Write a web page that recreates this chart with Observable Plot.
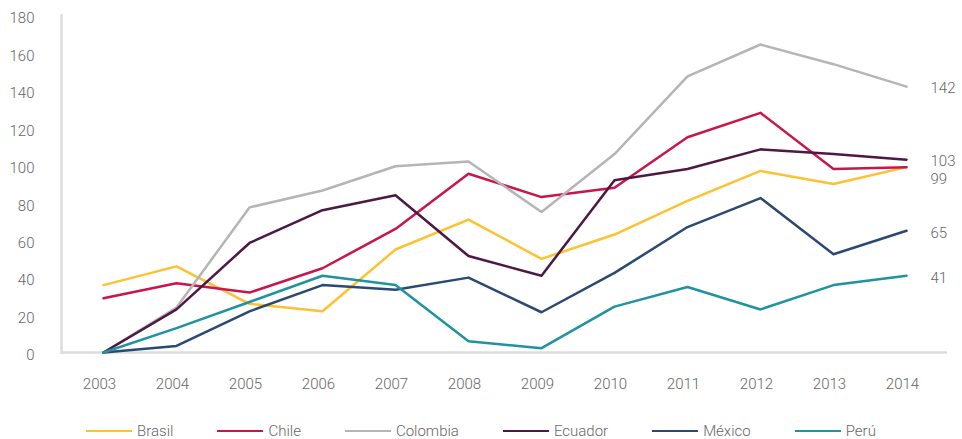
<!DOCTYPE html>
<html>
<head>
<meta charset="utf-8">
<script src="https://cdn.jsdelivr.net/npm/d3@7"></script>
<script src="https://cdn.jsdelivr.net/npm/@observablehq/plot@0.6"></script>
<style>
  body { margin: 0; background: #fff; font-family: Roboto, "Liberation Sans", sans-serif; }
  #chart svg { display: block; }
  .legend { display: flex; justify-content: center; gap: 44px; margin-top: 18px; font-size: 15px; font-weight: 300; color: #666; line-height: 16px; height: 16px; }
  .item { display: flex; align-items: center; gap: 5px; }
  .sw { width: 46px; height: 2.5px; }
</style>
</head>
<body>
<div id="chart"></div>
<script>
const years = [2003, 2004, 2005, 2006, 2007, 2008, 2009, 2010, 2011, 2012, 2013, 2014];
const countries = ["Brasil", "Chile", "Colombia", "Ecuador", "México", "Perú"];
const colors = ["#FDC230", "#C8164C", "#B5B5B5", "#4D1944", "#2B4A73", "#1F93A0"];
const brasil   = [36, 46, 26, 22, 55, 71, 50, 63, 81, 97, 90, 99];
const chile    = [29, 37, 32, 45, 66, 95.5, 83, 88, 115, 128, 98, 99];
const colombia = [0, 24, 77.5, 86.5, 99.5, 102, 75, 106, 147.5, 164.5, 154, 142];
const ecuador  = [0, 23, 58.5, 76, 84, 51.5, 41, 92, 98, 108.5, 106, 103];
const mexico   = [0, 3.5, 22, 36, 33.5, 40, 21.5, 42.5, 67, 82.5, 52.5, 65];
const peru     = [0, 13, 27, 41, 36, 6, 2.3, 24.5, 35, 23, 36, 41];
const yTicks = [0, 20, 40, 60, 80, 100, 120, 140, 160, 180];
const endLabels = ["142", "103", "65", "41"];
const endValues = [142, 103, 65, 41];
const sharedLabel = ["99"];
const sharedValue = [99];

const series = [brasil, chile, colombia, ecuador, mexico, peru];
const data = [];
series.forEach((vals, i) => vals.forEach((v, j) => data.push({country: countries[i], year: years[j], value: v})));
const lastYear = years[years.length - 1];
const labels = endLabels.map((t, i) => ({text: t, value: endValues[i], year: lastYear}));
const labels2 = sharedLabel.map((t, i) => ({text: t, value: sharedValue[i], year: lastYear}));

const font = "Roboto, 'Liberation Sans', sans-serif";
const chart = Plot.plot({
  width: 962,
  height: 405,
  marginLeft: 61,
  marginRight: 15,
  marginTop: 15,
  marginBottom: 53,
  style: {fontFamily: font, fontSize: "15px", fontWeight: 300, color: "#666", background: "#fff"},
  x: {type: "point", domain: years, padding: 0.5, label: null},
  y: {domain: [0, 180], label: null},
  color: {domain: countries, range: colors},
  marks: [
    Plot.frame({anchor: "left", stroke: "#dcdcdc", strokeWidth: 2.5}),
    Plot.ruleY([0], {stroke: "#dcdcdc", strokeWidth: 2.5}),
    Plot.axisX({tickSize: 0, tickPadding: 26, dx: -4, tickFormat: d => `${d}`, fill: "#666", fontSize: 15, label: null}),
    Plot.axisY({ticks: yTicks, tickSize: 0, tickPadding: 27, dy: 3, fill: "#666", fontSize: 15, label: null}),
    Plot.line(data, {x: "year", y: "value", z: "country", stroke: "country", strokeWidth: 2.5}),
    Plot.text(labels, {x: "year", y: "value", text: "text", dx: 24, dy: 2, textAnchor: "start", fill: "#666", fontSize: 15}),
    Plot.text(labels2, {x: "year", y: "value", text: "text", dx: 24, dy: 12, textAnchor: "start", fill: "#666", fontSize: 15})
  ]
});
document.getElementById("chart").appendChild(chart);

const legend = document.createElement("div");
legend.className = "legend";
countries.forEach((c, i) => {
  const it = document.createElement("div");
  it.className = "item";
  const sw = document.createElement("span");
  sw.className = "sw";
  sw.style.background = colors[i];
  const tx = document.createElement("span");
  tx.textContent = c;
  it.appendChild(sw); it.appendChild(tx);
  legend.appendChild(it);
});
document.body.appendChild(legend);
</script>
</body>
</html>
